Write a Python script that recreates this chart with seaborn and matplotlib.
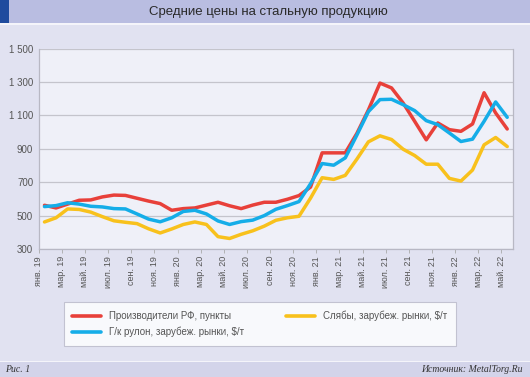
import numpy as np
import pandas as pd
import matplotlib
matplotlib.use("Agg")
import matplotlib.pyplot as plt
from matplotlib.patches import Rectangle
from matplotlib.lines import Line2D
import seaborn as sns

# ---- data ----
tick_labels = ["янв. 19", "мар. 19", "май. 19", "июл. 19", "сен. 19", "ноя. 19",
               "янв. 20", "мар. 20", "май. 20", "июл. 20", "сен. 20", "ноя. 20",
               "янв. 21", "мар. 21", "май. 21", "июл. 21", "сен. 21", "ноя. 21",
               "янв. 22", "мар. 22", "май. 22"]

producers_rf = [562, 546, 569, 592, 594, 612, 623, 621, 604, 587, 572, 532, 542, 546,
                563, 580, 559, 542, 563, 580, 580, 598, 620, 671, 876, 876, 876, 992,
                1133, 1294, 1265, 1175, 1065, 954, 1055, 1015, 1005, 1049, 1236, 1115, 1019]
hr_coil = [554, 560, 577, 569, 556, 552, 542, 540, 510, 479, 463, 487, 525, 532,
           510, 468, 447, 464, 473, 500, 538, 560, 584, 691, 812, 802, 846, 982,
           1123, 1195, 1197, 1165, 1129, 1069, 1045, 995, 944, 958, 1065, 1181, 1089]
slabs = [462, 487, 540, 537, 521, 494, 469, 460, 452, 421, 396, 420, 447, 462,
         447, 374, 363, 388, 409, 437, 472, 487, 496, 605, 727, 717, 741, 838,
         942, 978, 956, 898, 860, 808, 808, 723, 707, 773, 924, 968, 914]

series_names = ["Производители РФ, пункты", "Г/к рулон, зарубеж. рынки, $/т",
                "Слябы, зарубеж. рынки, $/т"]
colors = ["#e8403a", "#15ade8", "#f8c11c"]

n = len(producers_rf)
month_pos = np.arange(n) + 0.5
df = pd.concat([
    pd.DataFrame({"x": month_pos, "v": vals, "s": name})
    for name, vals in zip(series_names, [producers_rf, hr_coil, slabs])
])

sns.set_theme(style="white")
plt.rcParams["font.family"] = ["Liberation Sans", "DejaVu Sans"]

W, H = 530, 377
fig = plt.figure(figsize=(W / 100, H / 100), dpi=100)
fig.patch.set_facecolor("#e1e2f1")

# header and footer strips
fig.patches.append(Rectangle((0, 1 - 23 / H), 1, 23 / H, transform=fig.transFigure,
                             facecolor="#b9bde1", edgecolor="none", zorder=0))
fig.patches.append(Rectangle((0, 1 - 23 / H), 9 / W, 23 / H, transform=fig.transFigure,
                             facecolor="#1f4b9e", edgecolor="none", zorder=1))
fig.patches.append(Rectangle((0, 1 - 25 / H), 1, 2 / H, transform=fig.transFigure,
                             facecolor="#f4f4fa", edgecolor="none", zorder=0))
fig.patches.append(Rectangle((0, 0), 1, 15 / H, transform=fig.transFigure,
                             facecolor="#d3d4ea", edgecolor="none", zorder=0))
fig.patches.append(Rectangle((0, 15 / H), 1, 1.5 / H, transform=fig.transFigure,
                             facecolor="#f4f4fa", edgecolor="none", zorder=0))

left, right = 38.7 / W, 513 / W
bottom, top = 1 - 249 / H, 1 - 48.7 / H
ax = fig.add_axes([left, bottom, right - left, top - bottom])
ax.set_facecolor("#eff0f8")

sns.lineplot(data=df, x="x", y="v", hue="s", palette=colors, linewidth=2.5,
             ax=ax, legend=False)

ax.set_xlim(0, n)
ax.set_ylim(300, 1500)
yt = np.arange(300, 1501, 200)
ax.set_yticks(yt)
ax.set_yticklabels([f"{v:,}".replace(",", " ") for v in yt], fontsize=7, color="#555555")
ax.set_xticks(np.arange(0, n, 2))
ax.set_xticklabels(tick_labels, rotation=90, fontsize=6.5, color="#555555")
ax.tick_params(axis="x", length=3, width=0.6, color="#aaaaaa", pad=2, bottom=True)
ax.tick_params(axis="y", length=0, pad=4)
ax.grid(axis="y", color="#c4c4cc", linewidth=0.9)
ax.set_axisbelow(True)
for side in ["left", "bottom", "right"]:
    ax.spines[side].set_color("#b8b8c4")
    ax.spines[side].set_linewidth(0.9)
ax.spines["top"].set_visible(False)
ax.set_xlabel("")
ax.set_ylabel("")

# legend
handles = [Line2D([], [], color=c, linewidth=2.6) for c in colors]
leg = fig.legend(handles, series_names, loc="upper left", ncol=2,
                 bbox_to_anchor=(63.5 / W, 1 - 301.7 / H), borderaxespad=0,
                 frameon=True, fontsize=7, handlelength=3.0, handletextpad=0.8,
                 columnspacing=4.3, borderpad=0.9, labelspacing=0.6,
                 fancybox=False)
leg.get_frame().set_facecolor("white")
leg.get_frame().set_edgecolor("#b8b8c8")
leg.get_frame().set_linewidth(0.8)
for t in leg.get_texts():
    t.set_color("#555555")

fig.text(268 / W, 1 - 12 / H, "Средние цены на стальную продукцию", ha="center",
         va="center", fontsize=9.5, color="#2a2a2a")
fig.text(5 / W, 7.5 / H, "Рис. 1", ha="left", va="center", fontsize=7,
         family=["Liberation Serif", "DejaVu Serif"], style="italic", color="#333333")
fig.text(523 / W, 7.5 / H, "Источник: MetalTorg.Ru", ha="right", va="center", fontsize=7,
         family=["Liberation Serif", "DejaVu Serif"], style="italic", color="#333333")

fig.savefig("out.png", dpi=100, facecolor=fig.get_facecolor())
